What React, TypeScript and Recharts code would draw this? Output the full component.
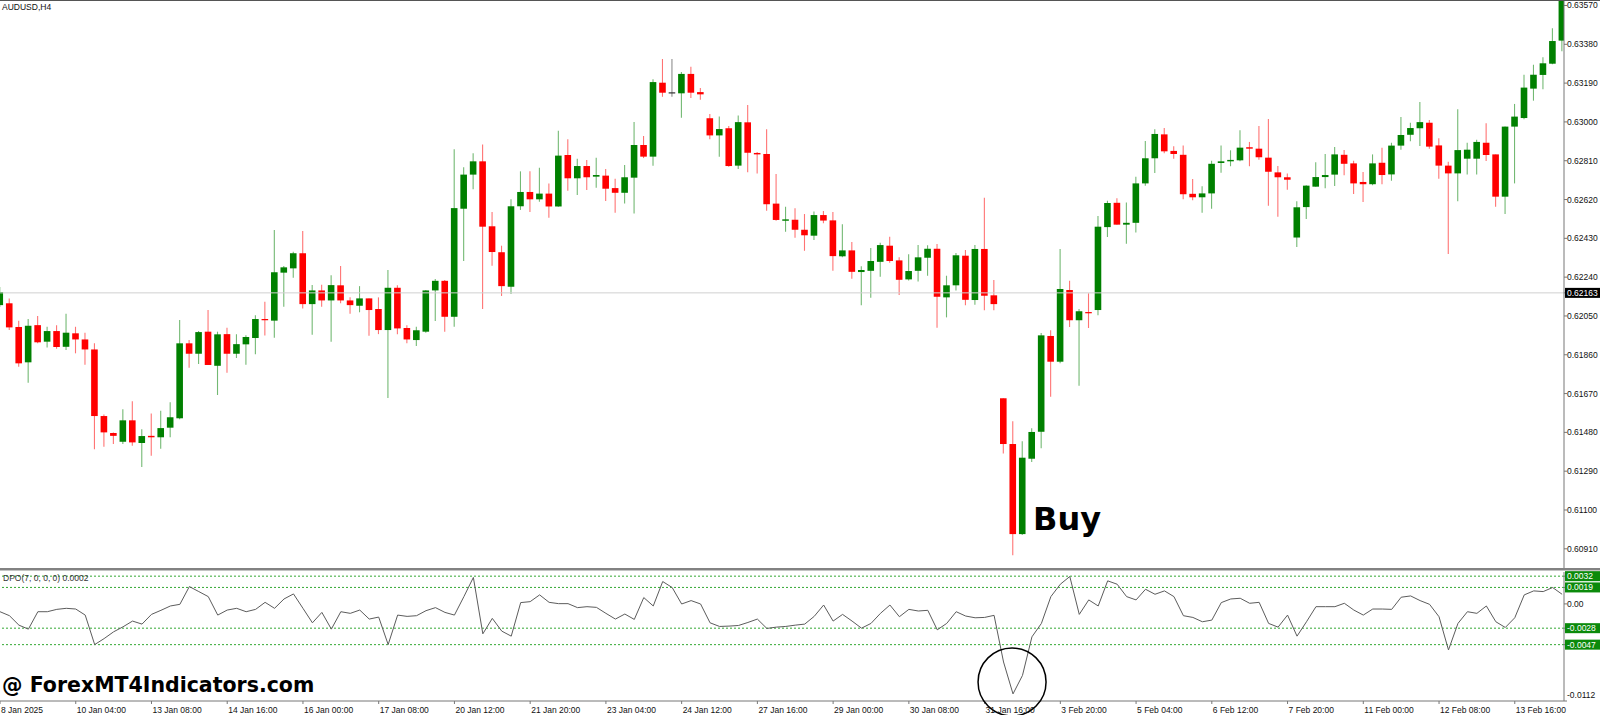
import React from "react";
import { ComposedChart, LineChart, Bar, Line, XAxis, YAxis, ReferenceLine, ReferenceDot } from "recharts";

// AUDUSD H4 candles (one entry per bar)
const opens = [
  0.62103, 0.62112, 0.61996, 0.61823, 0.62005, 0.61924, 0.61976, 0.61899, 0.61965, 0.61935,
  0.61886, 0.6156, 0.61477, 0.61434, 0.61539, 0.61428, 0.61463, 0.61456, 0.61503, 0.61549,
  0.61916, 0.61865, 0.61973, 0.61806, 0.61961, 0.61865, 0.61911, 0.61942, 0.62035, 0.62027,
  0.62262, 0.62283, 0.62357, 0.62108, 0.62175, 0.62126, 0.622, 0.62126, 0.621, 0.62136,
  0.62084, 0.61981, 0.62188, 0.61991, 0.61932, 0.61973, 0.62175, 0.62222, 0.62046, 0.62575,
  0.62742, 0.62807, 0.62489, 0.62362, 0.62193, 0.62587, 0.62657, 0.62621, 0.62649, 0.62586,
  0.62838, 0.62724, 0.62784, 0.62732, 0.62737, 0.62676, 0.62653, 0.62727, 0.62887, 0.6283,
  0.63192, 0.63145, 0.6314, 0.63235, 0.63146, 0.63018, 0.62934, 0.62969, 0.62786, 0.62998,
  0.62848, 0.62843, 0.626, 0.62516, 0.62521, 0.62472, 0.62443, 0.62544, 0.62518, 0.62342,
  0.62371, 0.62265, 0.62271, 0.62315, 0.62394, 0.62322, 0.62229, 0.62271, 0.62335, 0.62379,
  0.62141, 0.622, 0.62345, 0.62128, 0.62378, 0.62151, 0.61647, 0.61423, 0.60982, 0.61351,
  0.61483, 0.61952, 0.61826, 0.62177, 0.62029, 0.62069, 0.62079, 0.62485, 0.62604, 0.62497,
  0.62506, 0.62699, 0.62822, 0.62939, 0.62858, 0.62839, 0.62648, 0.62631, 0.6265, 0.62799,
  0.62807, 0.62812, 0.62876, 0.62869, 0.62825, 0.62753, 0.62729, 0.62434, 0.62583, 0.62683,
  0.6273, 0.62742, 0.62839, 0.62797, 0.62706, 0.62695, 0.628, 0.62743, 0.62884, 0.62937,
  0.62969, 0.62996, 0.62885, 0.62786, 0.62748, 0.6282, 0.6282, 0.62898, 0.62841, 0.62634,
  0.62977, 0.63019, 0.63163, 0.6323, 0.63285, 0.63398,
];
const highs = [
  0.62192, 0.62136, 0.62027, 0.62035, 0.6205, 0.61997, 0.62004, 0.62061, 0.61997, 0.61968,
  0.61916, 0.61568, 0.6148, 0.61593, 0.61633, 0.61495, 0.61573, 0.61586, 0.61628, 0.6203,
  0.61932, 0.61976, 0.62079, 0.61973, 0.61992, 0.61961, 0.61956, 0.62054, 0.6212, 0.62471,
  0.62294, 0.62364, 0.62466, 0.62201, 0.62203, 0.62249, 0.62294, 0.62141, 0.62196, 0.62136,
  0.62141, 0.62275, 0.622, 0.62004, 0.61997, 0.62177, 0.62231, 0.62226, 0.62866, 0.62778,
  0.62846, 0.6289, 0.62559, 0.62394, 0.62621, 0.62758, 0.62758, 0.62776, 0.62698, 0.62957,
  0.62915, 0.6282, 0.62814, 0.62825, 0.62769, 0.62722, 0.62789, 0.62999, 0.62931, 0.63209,
  0.63308, 0.63308, 0.63244, 0.6327, 0.63166, 0.63039, 0.63026, 0.6298, 0.63032, 0.63083,
  0.62853, 0.62964, 0.62745, 0.62585, 0.62577, 0.62549, 0.62562, 0.62564, 0.62559, 0.62499,
  0.62412, 0.62293, 0.62383, 0.62409, 0.62438, 0.62337, 0.62352, 0.62397, 0.62396, 0.62402,
  0.62247, 0.62358, 0.62373, 0.62397, 0.62629, 0.62226, 0.61647, 0.61535, 0.61437, 0.615,
  0.61966, 0.6198, 0.62378, 0.62222, 0.62084, 0.62161, 0.62539, 0.62614, 0.62626, 0.62606,
  0.62732, 0.62907, 0.62964, 0.6297, 0.62881, 0.62884, 0.6272, 0.62685, 0.6281, 0.62884,
  0.62861, 0.62959, 0.62902, 0.6298, 0.63014, 0.62784, 0.62748, 0.62612, 0.6269, 0.62802,
  0.62843, 0.62877, 0.62862, 0.6281, 0.62755, 0.62841, 0.62874, 0.62898, 0.63024, 0.62996,
  0.63098, 0.63009, 0.6292, 0.62805, 0.63062, 0.62898, 0.62913, 0.62993, 0.62841, 0.62977,
  0.63088, 0.63231, 0.6328, 0.63316, 0.63458, 0.6361,
];
const lows = [
  0.62094, 0.61981, 0.61801, 0.61723, 0.61916, 0.61896, 0.61889, 0.61883, 0.61867, 0.61811,
  0.61397, 0.6141, 0.61423, 0.61423, 0.61414, 0.6131, 0.61365, 0.614, 0.61456, 0.61544,
  0.61796, 0.61815, 0.6181, 0.61663, 0.61772, 0.61844, 0.61811, 0.61863, 0.61954, 0.61943,
  0.62095, 0.62237, 0.62087, 0.61958, 0.62095, 0.61924, 0.62112, 0.62061, 0.62068, 0.61953,
  0.61961, 0.61648, 0.6196, 0.61916, 0.61903, 0.61968, 0.62025, 0.61973, 0.61997, 0.62319,
  0.6267, 0.62084, 0.62296, 0.62148, 0.62157, 0.62569, 0.62559, 0.62609, 0.62531, 0.62585,
  0.62663, 0.62642, 0.62667, 0.62678, 0.62613, 0.62555, 0.62601, 0.62552, 0.62823, 0.62786,
  0.63123, 0.63123, 0.63021, 0.63117, 0.63109, 0.62915, 0.6283, 0.62781, 0.62769, 0.62753,
  0.62748, 0.62565, 0.62516, 0.62462, 0.62433, 0.62369, 0.62422, 0.62504, 0.62271, 0.62337,
  0.62232, 0.62103, 0.62139, 0.62242, 0.62311, 0.62152, 0.62224, 0.62219, 0.62247, 0.61992,
  0.62043, 0.62175, 0.62102, 0.62105, 0.62078, 0.62078, 0.61377, 0.60879, 0.60977, 0.61335,
  0.61402, 0.61654, 0.61818, 0.61996, 0.61708, 0.61991, 0.62054, 0.62436, 0.62497, 0.62404,
  0.62459, 0.62688, 0.6275, 0.62846, 0.6282, 0.62621, 0.62616, 0.62555, 0.62575, 0.62751,
  0.62783, 0.62807, 0.62783, 0.62815, 0.6259, 0.62536, 0.62668, 0.62388, 0.62525, 0.62683,
  0.62675, 0.62686, 0.62739, 0.62647, 0.62608, 0.6269, 0.62695, 0.62712, 0.62864, 0.62905,
  0.62882, 0.62869, 0.62722, 0.62353, 0.62611, 0.62743, 0.62743, 0.62809, 0.62585, 0.62549,
  0.62699, 0.63013, 0.63104, 0.6316, 0.63282, 0.63346,
];
const closes = [
  0.62167, 0.61994, 0.61818, 0.62002, 0.61921, 0.61976, 0.61898, 0.61968, 0.61935, 0.61886,
  0.6156, 0.6148, 0.61463, 0.61539, 0.61431, 0.61462, 0.61456, 0.61501, 0.61554, 0.61916,
  0.61865, 0.61971, 0.6181, 0.6196, 0.61865, 0.61912, 0.61947, 0.62035, 0.62029, 0.62264,
  0.62288, 0.62357, 0.62108, 0.62175, 0.62126, 0.62201, 0.62126, 0.62103, 0.62136, 0.62079,
  0.61981, 0.62188, 0.61989, 0.61935, 0.6198, 0.62175, 0.62222, 0.62046, 0.62578, 0.62742,
  0.62807, 0.62487, 0.62363, 0.62196, 0.62587, 0.62657, 0.62621, 0.62649, 0.62586, 0.62835,
  0.62724, 0.62784, 0.62729, 0.6274, 0.62673, 0.62653, 0.62729, 0.62887, 0.6283, 0.63195,
  0.63143, 0.63145, 0.63235, 0.63143, 0.63135, 0.62934, 0.62965, 0.62784, 0.62999, 0.62849,
  0.62841, 0.62597, 0.6252, 0.62523, 0.62472, 0.62445, 0.62544, 0.62517, 0.62343, 0.62371,
  0.62266, 0.62275, 0.62319, 0.62397, 0.62319, 0.62227, 0.6227, 0.62337, 0.62379, 0.62144,
  0.622, 0.62347, 0.62129, 0.62378, 0.62149, 0.62108, 0.61423, 0.60982, 0.61356, 0.61482,
  0.61955, 0.61826, 0.62182, 0.62029, 0.62073, 0.62064, 0.62487, 0.62603, 0.62497, 0.62506,
  0.62699, 0.62822, 0.62941, 0.62856, 0.62843, 0.62646, 0.62631, 0.6265, 0.62795, 0.62807,
  0.62814, 0.62874, 0.62869, 0.62827, 0.62756, 0.62729, 0.62717, 0.62582, 0.62688, 0.6273,
  0.6274, 0.62841, 0.62795, 0.62699, 0.62695, 0.62797, 0.6274, 0.62884, 0.62936, 0.6297,
  0.62999, 0.62879, 0.62786, 0.62748, 0.62862, 0.62864, 0.62902, 0.62838, 0.62634, 0.62977,
  0.63026, 0.63168, 0.63231, 0.63287, 0.63396, 0.636,
];

// DPO(7) indicator values, one per bar
const dpoValues = [
  -0.0009, -0.00136, -0.00245, -0.00291, -0.0009, -0.0009, -0.00063, -0.00051, -0.00059, -0.00129,
  -0.00469, -0.004, -0.00322, -0.00264, -0.00198, -0.00233, -0.00121, -0.00074, -0.00024, -0.00005,
  0.002, 0.00142, 0.00084, -0.00129, -0.00071, -0.00051, -0.0009, -0.00063, 0.00018, -0.00051,
  0.00057, 0.00115, -0.00051, -0.00218, -0.00098, -0.00291, -0.0009, -0.00109, -0.00071, -0.00175,
  -0.00152, -0.00469, -0.00129, -0.00144, -0.00136, -0.00078, -0.00043, -0.00098, -0.00129, 0.00084,
  0.00305, -0.00345, -0.00167, -0.00314, -0.00372, 0.00015, 0.00026, 0.00104, 0.00018, 0.00003,
  0.00003, -0.00043, -0.00032, -0.0004, -0.00109, -0.00175, -0.00117, -0.00179, 0.00073, -0.00024,
  0.00258, 0.00189, -0.00001, 0.00038, -0.00001, -0.00218, -0.0026, -0.00256, -0.00249, -0.00214,
  -0.00175, -0.00283, -0.00268, -0.0026, -0.00245, -0.00233, -0.00144, -0.00013, -0.00198, -0.00121,
  -0.00198, -0.0028, -0.00225, -0.00109, -0.00013, -0.00148, -0.00063, -0.00082, -0.00074, -0.00299,
  -0.00225, -0.0009, -0.0014, -0.0016, -0.00156, -0.00132, -0.0067, -0.01038, -0.00825, -0.0038,
  -0.00225, 0.00084, 0.00227, 0.00316, -0.00121, 0.00046, -0.00024, 0.00266, 0.00227, 0.00084,
  0.00046, 0.00169, 0.00111, 0.0015, 0.00084, -0.00136, -0.00156, -0.00206, -0.00187, 0.00015,
  0.00057, 0.00065, 0.00007, 0.00018, -0.00225, -0.00268, -0.00129, -0.00372, -0.00206, -0.00032,
  -0.00032, -0.00032, 0.00007, -0.00071, -0.00129, -0.00059, -0.00059, -0.00063, 0.00077, 0.00092,
  0.00038, -0.00005, -0.00148, -0.00531, -0.00225, -0.0009, -0.00109, -0.00024, -0.00206, -0.00272,
  -0.0016, 0.00104, 0.0015, 0.00142, 0.00189, 0.00111,
];

// time scale labels, one every 8 bars
const timeLabels = [
  "8 Jan 2025", "10 Jan 04:00", "13 Jan 08:00", "14 Jan 16:00", "16 Jan 00:00", "17 Jan 08:00",
  "20 Jan 12:00", "21 Jan 20:00", "23 Jan 04:00", "24 Jan 12:00", "27 Jan 16:00", "29 Jan 00:00",
  "30 Jan 08:00", "31 Jan 16:00", "3 Feb 20:00", "5 Feb 04:00", "6 Feb 12:00", "7 Feb 20:00",
  "11 Feb 00:00", "12 Feb 08:00", "13 Feb 16:00",
];
const labelStep = 8;

const priceTicks = [
  0.6357, 0.6338, 0.6319, 0.63, 0.6281, 0.6262, 0.6243, 0.6224, 0.6205, 0.6186, 0.6167, 0.6148,
  0.6129, 0.611, 0.6091,
];
const linePrice = 0.62163;
const dpoLevels = [0.0032, 0.0019, -0.0028, -0.0047];
const dpoTicks = [0.0032, 0.0019, 0, -0.0028, -0.0047, -0.0112];
const signalBar = 106.9;
const signalValue = -0.009;

const bars = opens.map((open, i) => ({
  i,
  open,
  high: highs[i],
  low: lows[i],
  close: closes[i],
  dpo: dpoValues[i],
}));

const xDomain: [number, number] = [0, 165.2];
const smallFont = "'Liberation Sans', Arial, sans-serif";
const bull = "#008000";
const bear = "#ff0000";

function Candle(props: any) {
  const { x, y, width, height, payload } = props;
  if (x == null || y == null || !payload) return null;
  const top = Math.min(y, y + height);
  const h = Math.abs(height);
  const { open, high, low, close } = payload;
  const span = high - low || 1e-9;
  const yOf = (v: number) => top + ((high - v) / span) * h;
  const cx = x + width / 2;
  const color = close > open ? bull : close < open ? bear : "#333";
  const bTop = yOf(Math.max(open, close));
  const bBot = yOf(Math.min(open, close));
  const bw = 6.6;
  return (
    <g>
      <line x1={cx} x2={cx} y1={top} y2={top + h} stroke={color} strokeOpacity={0.55} strokeWidth={1.1} />
      <rect x={cx - bw / 2} y={bTop} width={bw} height={Math.max(bBot - bTop, 1.2)} fill={color} />
    </g>
  );
}

function PriceTick(props: any) {
  const { x, y, payload } = props;
  const v = payload.value as number;
  if (v === linePrice) {
    return (
      <g>
        <rect x={x - 4} y={y - 5} width={37} height={10} fill="#000" />
        <text x={x - 2} y={y + 3} fontSize={8.5} fontFamily={smallFont} fill="#fff">
          {v.toFixed(5)}
        </text>
      </g>
    );
  }
  return (
    <text x={x - 2} y={y + 3} fontSize={8.5} fontFamily={smallFont} fill="#111">
      {v.toFixed(5)}
    </text>
  );
}

function DpoTick(props: any) {
  const { x, y, payload } = props;
  const v = payload.value as number;
  if (dpoLevels.includes(v)) {
    return (
      <g>
        <rect x={x - 4} y={y - 5} width={37} height={10} fill="#0b8a0b" />
        <text x={x - 2} y={y + 3} fontSize={8.5} fontFamily={smallFont} fill="#fff">
          {v.toFixed(4)}
        </text>
      </g>
    );
  }
  const label = v === 0 ? "0.00" : v.toFixed(4);
  const dy = v === 0 ? 3 : -3;
  return (
    <text x={x - 2} y={y + dy} fontSize={8.5} fontFamily={smallFont} fill="#111">
      {label}
    </text>
  );
}

function TimeTick(props: any) {
  const { x, y, payload } = props;
  const label = timeLabels[Math.round(payload.value / labelStep)];
  return (
    <text x={x + 1} y={y + 7} fontSize={8.5} fontFamily={smallFont} fill="#111">
      {label}
    </text>
  );
}

export default function App() {
  const timeTicks = timeLabels.map((_, k) => k * labelStep);
  return (
    <div style={{ position: "absolute", left: 0, top: 0, width: 1600, height: 715, background: "#fff", overflow: "hidden" }}>
      <div style={{ position: "absolute", left: 0, top: 0 }}>
        <ComposedChart width={1600} height={569} data={bars} margin={{ top: 1, right: 0, bottom: 1, left: 0 }}>
          <XAxis dataKey="i" type="number" domain={xDomain} allowDataOverflow hide />
          <YAxis
            orientation="right"
            width={36}
            domain={[0.60816, 0.63592]}
            allowDataOverflow
            ticks={[...priceTicks, linePrice]}
            interval={0}
            tick={<PriceTick />}
            tickSize={3}
            tickMargin={2}
            tickLine={{ stroke: "#777" }}
            axisLine={{ stroke: "#777" }}
          />
          <ReferenceLine y={linePrice} stroke="#d0d0d0" />
          <Bar dataKey={(d: any) => [d.low, d.high]} shape={<Candle />} barSize={7} isAnimationActive={false} />
        </ComposedChart>
      </div>
      <div style={{ position: "absolute", left: 0, top: 0, width: 1600, height: 1, background: "#555" }} />
      <div style={{ position: "absolute", left: 0, top: 568, width: 1600, height: 2, background: "#828282" }} />
      <div style={{ position: "absolute", left: 0, top: 570, width: 1600, height: 1, background: "#c4c4c4" }} />
      <div style={{ position: "absolute", left: 0, top: 571 }}>
        <LineChart width={1600} height={144} data={bars} margin={{ top: 1, right: 0, bottom: 0, left: 0 }}>
          <XAxis
            dataKey="i"
            type="number"
            domain={xDomain}
            allowDataOverflow
            ticks={timeTicks}
            interval={0}
            height={14}
            tick={<TimeTick />}
            tickSize={3}
            tickMargin={2}
            tickLine={{ stroke: "#777" }}
            axisLine={{ stroke: "#777" }}
          />
          <YAxis
            orientation="right"
            width={36}
            domain={[-0.0112, 0.00368]}
            allowDataOverflow
            ticks={dpoTicks}
            interval={0}
            tick={<DpoTick />}
            tickSize={3}
            tickMargin={2}
            tickLine={{ stroke: "#777" }}
            axisLine={{ stroke: "#777" }}
          />
          {dpoLevels.map((lv) => (
            <ReferenceLine key={lv} y={lv} stroke="#33a833" strokeDasharray="2 2" />
          ))}
          <Line dataKey="dpo" type="linear" stroke="#5c5c5c" strokeWidth={1} dot={false} isAnimationActive={false} />
          <ReferenceDot x={signalBar} y={signalValue} r={34} fill="none" stroke="#000" strokeWidth={1.5} ifOverflow="visible" />
        </LineChart>
      </div>
      <svg width={1600} height={715} style={{ position: "absolute", left: 0, top: 0, pointerEvents: "none" }}>
        <text x={2} y={10} fontSize={8.5} fontFamily={smallFont} fill="#111">AUDUSD,H4</text>
        <text x={3} y={581} fontSize={8.5} fontFamily={smallFont} fill="#333">DPO(7, 0, 0, 0) 0.0002</text>
        <text x={1033} y={530} fontSize={32} fontWeight="bold" fontFamily="'DejaVu Sans', sans-serif" fill="#000">Buy</text>
        <text x={2} y={692} fontSize={20.5} fontWeight="bold" fontFamily="'DejaVu Sans', sans-serif" fill="#000">@ ForexMT4Indicators.com</text>
      </svg>
    </div>
  );
}
